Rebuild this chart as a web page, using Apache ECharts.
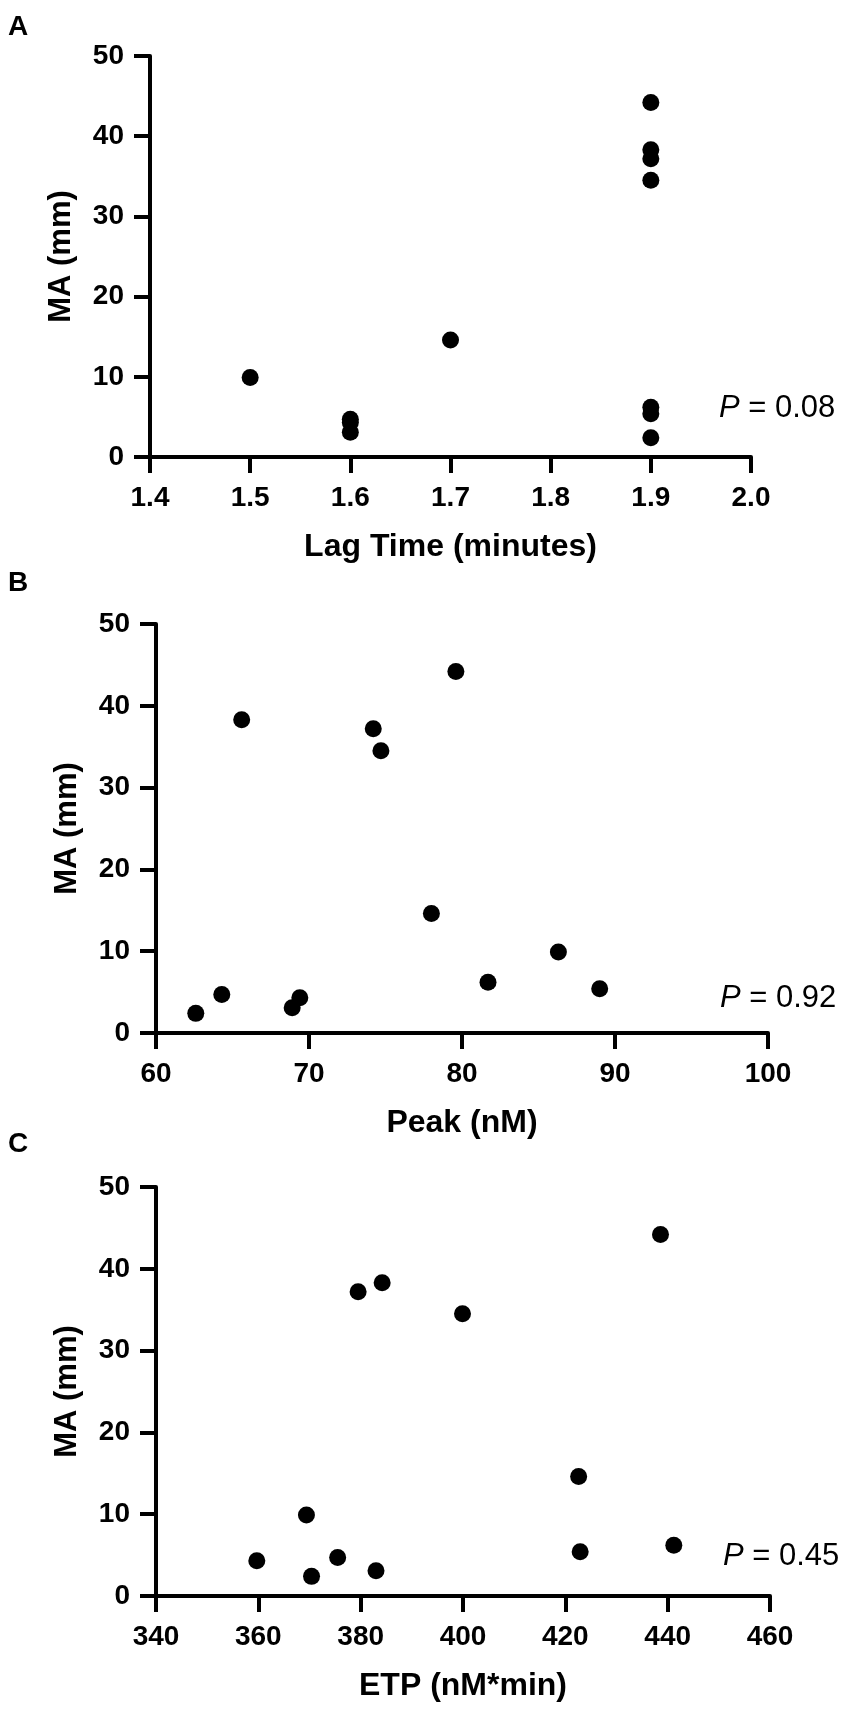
<!DOCTYPE html>
<html>
<head>
<meta charset="utf-8">
<script src="https://cdn.jsdelivr.net/npm/echarts@6/dist/echarts.min.js"></script>
<style>
html,body{margin:0;padding:0;background:#fff;}
#chart{width:851px;height:1711px;}
</style>
</head>
<body>
<div id="chart"></div>
<script>
// Panel A: Lag time vs MA
var lagTime = [1.5, 1.6, 1.6, 1.6, 1.7, 1.9, 1.9, 1.9, 1.9, 1.9, 1.9, 1.9];
var maLag   = [9.9, 4.7, 4.3, 3.1, 14.6, 44.2, 38.3, 37.2, 34.5, 6.2, 5.4, 2.4];
// Panel B: Peak vs MA
var peak    = [62.6, 64.3, 65.6, 68.9, 69.4, 74.2, 74.7, 78.0, 79.6, 81.7, 86.3, 89.0];
var maPeak  = [2.4, 4.7, 38.3, 3.1, 4.3, 37.2, 34.5, 14.6, 44.2, 6.2, 9.9, 5.4];
// Panel C: ETP vs MA
var etp     = [359.7, 369.4, 370.4, 375.5, 379.5, 384.2, 383.0, 399.9, 422.6, 422.9, 438.6, 441.2];
var maEtp   = [4.3, 9.9, 2.4, 4.7, 37.2, 38.3, 3.1, 34.5, 14.6, 5.4, 44.2, 6.2];

var panelLetters = ['A', 'B', 'C'];
var xTitles = ['Lag Time (minutes)', 'Peak (nM)', 'ETP (nM*min)'];
var yTitle = 'MA (mm)';
var pValues = ['0.08', '0.92', '0.45'];
var xMin = [1.4, 60, 340], xMax = [2.0, 100, 460], xInterval = [0.1, 10, 20];
var yMin = 0, yMax = 50, yInterval = 10;

var FONT = "'Liberation Sans', Arial, Helvetica, sans-serif";
var grids = [
  {left: 150, top: 56, width: 601, height: 401},
  {left: 156, top: 624, width: 612, height: 409},
  {left: 156, top: 1187, width: 614, height: 409}
];
var letterPos = [[8, 27], [8, 583], [8, 1144]];
var pPos = [[719, 408], [720, 998], [723, 1556]];

function pairs(xs, ys){ return xs.map(function(x,i){ return [x, ys[i]]; }); }
var seriesData = [pairs(lagTime, maLag), pairs(peak, maPeak), pairs(etp, maEtp)];

var axisLineStyle = {color: '#000', width: 4};
var xAxes = [], yAxes = [], series = [], graphics = [];
for (var i = 0; i < 3; i++) {
  xAxes.push({
    type: 'value', gridIndex: i, min: xMin[i], max: xMax[i], interval: xInterval[i],
    name: xTitles[i], nameLocation: 'middle', nameGap: 74,
    nameTextStyle: {fontFamily: FONT, fontWeight: 'bold', fontSize: 32, color: '#000'},
    axisLine: {show: true, onZero: false, lineStyle: axisLineStyle},
    axisTick: {show: true, length: 16, lineStyle: {color: '#000', width: 4}},
    axisLabel: {margin: 27, fontFamily: FONT, fontWeight: 'bold', fontSize: 28, color: '#000',
      formatter: (i === 0 ? function(v){ return v.toFixed(1); } : null)},
    splitLine: {show: false}
  });
  yAxes.push({
    type: 'value', gridIndex: i, min: yMin, max: yMax, interval: yInterval,
    name: yTitle, nameLocation: 'middle', nameGap: 73,
    nameTextStyle: {fontFamily: FONT, fontWeight: 'bold', fontSize: 31, color: '#000'},
    axisLine: {show: true, onZero: false, lineStyle: axisLineStyle},
    axisTick: {show: true, length: 16, lineStyle: {color: '#000', width: 4}},
    axisLabel: {margin: 26, fontFamily: FONT, fontWeight: 'bold', fontSize: 28, color: '#000'},
    splitLine: {show: false}
  });
  series.push({
    type: 'scatter', xAxisIndex: i, yAxisIndex: i, data: seriesData[i],
    symbol: 'circle', symbolSize: 17, itemStyle: {color: '#000', opacity: 1},
    silent: true
  });
  graphics.push({
    type: 'text', left: letterPos[i][0], top: letterPos[i][1] - 14,
    style: {text: panelLetters[i], fontFamily: FONT, fontWeight: 'bold', fontSize: 28, fill: '#000'}
  });
  graphics.push({
    type: 'text', x: pPos[i][0], y: pPos[i][1],
    style: {
      text: '{i|P} = ' + pValues[i],
      fontFamily: FONT, fontSize: 31, fill: '#000', verticalAlign: 'middle', align: 'left',
      rich: {i: {fontStyle: 'italic', fontFamily: FONT, fontSize: 31, fill: '#000'}}
    }
  });
}

var chart = echarts.init(document.getElementById('chart'), null, {renderer: 'canvas'});
chart.setOption({
  backgroundColor: '#fff',
  animation: false,
  grid: grids,
  xAxis: xAxes,
  yAxis: yAxes,
  series: series,
  graphic: graphics
});
</script>
</body>
</html>
